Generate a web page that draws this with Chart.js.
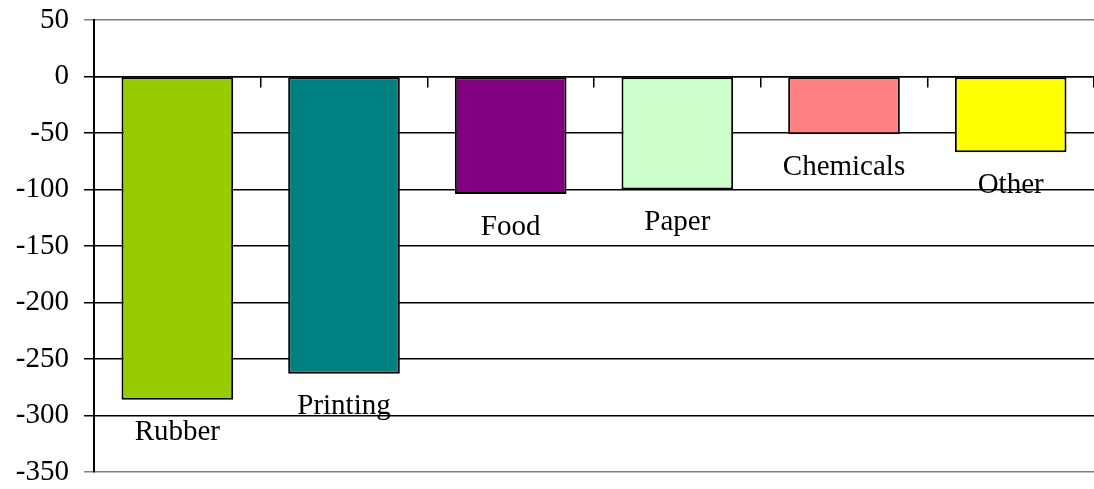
<!DOCTYPE html>
<html>
<head>
<meta charset="utf-8">
<script src="https://cdn.jsdelivr.net/npm/chart.js@4/dist/chart.umd.min.js"></script>
<style>
  html, body { margin: 0; padding: 0; background: #ffffff; }
  canvas { display: block; }
</style>
</head>
<body>
<canvas id="c" width="1094" height="489"></canvas>
<script>
const categories = ["Rubber", "Printing", "Food", "Paper", "Chemicals", "Other"];
const values = [-286, -263, -104, -100, -51, -67];
const barColors = ["#99CC00", "#008080", "#800080", "#CCFFCC", "#FF8080", "#FFFF00"];
const yMin = -350, yMax = 50, yStep = 50;

const FONT = "'Liberation Serif', 'Times New Roman', serif";

const belowLabels = {
  id: 'belowLabels',
  afterDatasetsDraw(chart) {
    const ctx = chart.ctx;
    const meta = chart.getDatasetMeta(0);
    ctx.save();
    ctx.font = "29px " + FONT;
    ctx.fillStyle = "#000000";
    ctx.textAlign = "center";
    ctx.textBaseline = "middle";
    meta.data.forEach((el, i) => {
      ctx.fillText(categories[i], el.x, el.y + 33);
    });
    ctx.restore();
  }
};

new Chart(document.getElementById('c'), {
  type: 'bar',
  data: {
    labels: categories,
    datasets: [{
      data: values,
      backgroundColor: barColors,
      borderColor: "#000000",
      borderWidth: 2,
      borderSkipped: false,
      categoryPercentage: 1.0,
      barPercentage: 0.67
    }]
  },
  options: {
    responsive: false,
    animation: false,
    layout: { padding: { top: 20, bottom: 17, left: 0, right: 0 } },
    plugins: {
      legend: { display: false },
      tooltip: { enabled: false }
    },
    scales: {
      x: {
        position: { y: 0 },
        offset: true,
        ticks: { display: false },
        grid: {
          display: true,
          offset: true,
          drawOnChartArea: false,
          drawTicks: true,
          tickLength: 10,
          color: "#000000",
          lineWidth: 1.5
        },
        border: { display: true, color: "#000000", width: 1.5 },
        afterFit(scale) { scale.paddingLeft = 0; scale.paddingRight = 0; scale.paddingTop = 0; scale.paddingBottom = 0; }
      },
      y: {
        min: yMin,
        max: yMax,
        ticks: {
          stepSize: yStep,
          color: "#000000",
          font: { family: FONT, size: 29 },
          padding: 15
        },
        grid: {
          color: (c) => (c.tick && (c.tick.value === yMax || c.tick.value === yMin)) ? "#808080" : "#000000",
          lineWidth: 1.5,
          tickLength: 10,
          drawTicks: true
        },
        border: { display: true, color: "#000000", width: 2 },
        afterFit(scale) { scale.width = 94; scale.paddingTop = 0; scale.paddingBottom = 0; }
      }
    }
  },
  plugins: [belowLabels]
});
</script>
</body>
</html>
